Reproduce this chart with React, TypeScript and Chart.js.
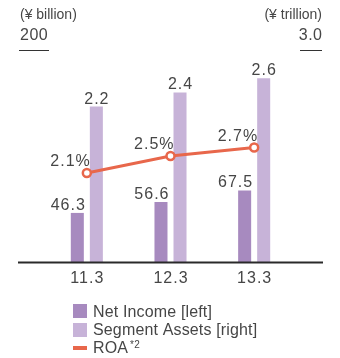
import React, { useEffect, useRef } from "react";
import { Chart, registerables } from "chart.js";

Chart.register(...registerables);

const categories = ["11.3", "12.3", "13.3"];
const netIncome = [46.3, 56.6, 67.5];
const segmentAssets = [2.2, 2.4, 2.6];
const roa = [2.1, 2.5, 2.7];
const netIncomeLabels = ["46.3", "56.6", "67.5"];
const segmentLabels = ["2.2", "2.4", "2.6"];
const roaLabels = ["2.1%", "2.5%", "2.7%"];
const leftUnit = "(¥ billion)";
const rightUnit = "(¥ trillion)";
const leftMaxLabel = "200";
const rightMaxLabel = "3.0";

const FONT = '"Liberation Sans", Arial, sans-serif';
const TEXT = "#464646";
const C_NET = "#a78abf";
const C_SEG = "#c7b3d8";
const C_ROA = "#e8674b";

const overlay = {
  id: "overlay",
  afterDatasetsDraw(chart: any) {
    const ctx = chart.ctx;
    const area = chart.chartArea;
    const x = chart.scales.x;
    ctx.save();
    // baseline
    ctx.strokeStyle = "#2a2a2a";
    ctx.lineWidth = 2;
    ctx.beginPath();
    ctx.moveTo(18, area.bottom + 0.5);
    ctx.lineTo(323, area.bottom + 0.5);
    ctx.stroke();

    ctx.fillStyle = TEXT;
    ctx.textBaseline = "middle";
    // category labels
    ctx.font = `16px ${FONT}`;
    (ctx as any).letterSpacing = "1px";
    ctx.textAlign = "center";
    categories.forEach((c, i) => {
      ctx.fillText(c, x.getPixelForValue(i) + 0.5, area.bottom + 17);
    });

    // value labels
    const mNet = chart.getDatasetMeta(0);
    const mSeg = chart.getDatasetMeta(1);
    const mRoa = chart.getDatasetMeta(2);
    ctx.textBaseline = "alphabetic";
    mNet.data.forEach((el: any, i: number) => {
      ctx.textAlign = "right";
      ctx.fillText(netIncomeLabels[i], el.x + el.width / 2 + 2, el.y - 3);
    });
    mSeg.data.forEach((el: any, i: number) => {
      ctx.textAlign = "center";
      ctx.fillText(segmentLabels[i], el.x + 0.5, el.y - 3);
    });
    mRoa.data.forEach((el: any, i: number) => {
      ctx.textAlign = "right";
      ctx.fillText(roaLabels[i], el.x + 4, el.y - 7);
    });
    (ctx as any).letterSpacing = "0px";

    // units and axis max labels
    ctx.textBaseline = "middle";
    ctx.font = `14px ${FONT}`;
    ctx.textAlign = "left";
    ctx.fillText(leftUnit, 20, 15);
    ctx.textAlign = "right";
    ctx.fillText(rightUnit, 322, 15);
    ctx.font = `16px ${FONT}`;
    (ctx as any).letterSpacing = "0.5px";
    ctx.textAlign = "left";
    ctx.fillText(leftMaxLabel, 20, 36);
    ctx.textAlign = "right";
    ctx.fillText(rightMaxLabel, 322.5, 36);
    (ctx as any).letterSpacing = "0px";
    ctx.strokeStyle = "#333";
    ctx.lineWidth = 1;
    ctx.beginPath();
    ctx.moveTo(19, area.top + 0.5);
    ctx.lineTo(49, area.top + 0.5);
    ctx.moveTo(300, area.top + 0.5);
    ctx.lineTo(322, area.top + 0.5);
    ctx.stroke();

    // legend
    const ds = chart.data.datasets;
    ctx.font = `16px ${FONT}`;
    (ctx as any).letterSpacing = "0.15px";
    ctx.textAlign = "left";
    ctx.fillStyle = C_NET;
    ctx.fillRect(73, 304, 14, 14);
    ctx.fillStyle = C_SEG;
    ctx.fillRect(73, 323, 14, 14);
    ctx.fillStyle = C_ROA;
    ctx.fillRect(73, 346, 14, 4);
    ctx.fillStyle = TEXT;
    ctx.fillText(ds[0].label, 93, 312.5);
    ctx.fillText(ds[1].label, 93, 331);
    ctx.fillText(ds[2].label, 93, 349);
    const w = ctx.measureText(ds[2].label).width;
    ctx.font = `10px ${FONT}`;
    ctx.fillText("*2", 93 + w + 2, 345.5);
    ctx.restore();
  },
};

export default function App() {
  const ref = useRef<HTMLCanvasElement>(null);
  useEffect(() => {
    document.body.style.margin = "0";
    const chart = new Chart(ref.current!, {
      type: "bar",
      data: {
        labels: categories,
        datasets: [
          {
            type: "bar",
            label: "Net Income [left]",
            data: netIncome,
            backgroundColor: C_NET,
            yAxisID: "y",
            order: 1,
            categoryPercentage: 0.455,
            barPercentage: 0.684,
          },
          {
            type: "bar",
            label: "Segment Assets [right]",
            data: segmentAssets,
            backgroundColor: C_SEG,
            yAxisID: "y1",
            order: 1,
            categoryPercentage: 0.455,
            barPercentage: 0.684,
          },
          {
            type: "line",
            label: "ROA",
            data: roa,
            borderColor: C_ROA,
            borderWidth: 3,
            pointRadius: 4,
            pointBorderWidth: 2.5,
            pointBackgroundColor: "#fff",
            pointBorderColor: C_ROA,
            yAxisID: "y2",
            order: 0,
          } as any,
        ],
      },
      options: {
        animation: false,
        responsive: false,
        layout: { padding: { left: 45, right: 44, top: 50, bottom: 96 } },
        plugins: { legend: { display: false }, tooltip: { enabled: false } },
        scales: {
          x: { display: false },
          y: { display: false, min: 0, max: 200 },
          y1: { display: false, min: 0, max: 3.0, position: "right" },
          y2: { display: false, min: 0, max: 5 },
        },
      },
      plugins: [overlay],
    });
    return () => chart.destroy();
  }, []);
  return <canvas ref={ref} width={340} height={358} style={{ display: "block" }} />;
}
